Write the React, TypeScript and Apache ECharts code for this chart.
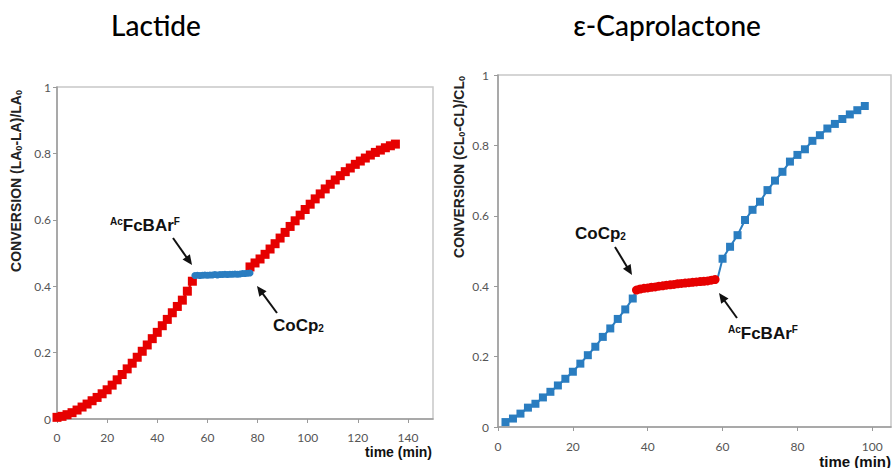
import React, { useEffect, useRef } from 'react';
import * as echarts from 'echarts';

// ---- Lactide panel data (time in min, conversion) ----
const laRed1Time = [0, 2, 4, 6, 8, 10, 12, 14, 16, 18, 20, 22, 24, 26, 28, 30, 32, 34, 36, 38, 40, 42, 44, 46, 48, 50, 52, 54];
const laRed1Conv = [0.005, 0.008, 0.013, 0.019, 0.027, 0.036, 0.045, 0.055, 0.065, 0.076, 0.088, 0.102, 0.118, 0.134, 0.151, 0.168, 0.186, 0.204, 0.223, 0.242, 0.261, 0.281, 0.300, 0.320, 0.339, 0.358, 0.385, 0.415];
const laBlueTime = [55, 56, 57, 58, 59, 60, 61, 62, 63, 64, 65, 66, 67, 68, 69, 70, 71, 72, 73, 74, 75, 76, 77];
const laBlueConv = [0.432, 0.433, 0.432, 0.433, 0.434, 0.433, 0.434, 0.434, 0.435, 0.434, 0.435, 0.435, 0.436, 0.435, 0.436, 0.436, 0.437, 0.436, 0.437, 0.438, 0.438, 0.439, 0.440];
const laRed2Time = [77, 79, 81, 83, 85, 87, 89, 91, 93, 95, 97, 99, 101, 103, 105, 107, 109, 111, 113, 115, 117, 119, 121, 123, 125, 127, 129, 131, 133, 135];
const laRed2Conv = [0.458, 0.470, 0.482, 0.496, 0.512, 0.528, 0.545, 0.562, 0.580, 0.597, 0.614, 0.631, 0.647, 0.663, 0.678, 0.693, 0.707, 0.720, 0.733, 0.745, 0.756, 0.767, 0.777, 0.786, 0.795, 0.803, 0.810, 0.817, 0.823, 0.828];

// ---- ε-Caprolactone panel data ----
const clBlue1Time = [2, 4, 6, 8, 10, 12, 14, 16, 18, 20, 22, 24, 26, 28, 30, 32, 34, 36, 37];
const clBlue1Conv = [0.014, 0.024, 0.038, 0.055, 0.066, 0.084, 0.100, 0.118, 0.137, 0.157, 0.180, 0.204, 0.228, 0.256, 0.280, 0.307, 0.334, 0.365, 0.389];
const clRedTime = [37, 38, 39, 40, 41, 42, 43, 44, 45, 46, 47, 48, 49, 50, 51, 52, 53, 54, 55, 56, 57, 58];
const clRedConv = [0.389, 0.392, 0.394, 0.395, 0.397, 0.398, 0.400, 0.401, 0.403, 0.404, 0.405, 0.407, 0.408, 0.409, 0.410, 0.411, 0.412, 0.413, 0.414, 0.415, 0.417, 0.419];
const clBlue2Time = [58.6, 60, 62, 64, 66, 68, 70, 72, 74, 76, 78, 80, 82, 84, 86, 88, 90, 92, 94, 96, 98];
const clBlue2Conv = [0.419, 0.478, 0.512, 0.545, 0.588, 0.617, 0.640, 0.673, 0.700, 0.725, 0.754, 0.773, 0.789, 0.813, 0.829, 0.848, 0.861, 0.875, 0.888, 0.900, 0.912];

const RED = '#e60000';
const BLUE = '#2a7dc0';
const TICK_FONT = 'Lato';
const ARIAL = '"Liberation Sans", Arial, sans-serif';

const pairs = (t: number[], v: number[]) => t.map((x, i) => [x, v[i]]);

function arrow(x1: number, y1: number, x2: number, y2: number) {
  const dx = x2 - x1, dy = y2 - y1;
  const len = Math.hypot(dx, dy);
  const ux = dx / len, uy = dy / len;
  const L = 10, W = 4.5;
  const bx = x2 - ux * L, by = y2 - uy * L;
  return [
    { type: 'line', shape: { x1, y1, x2: bx + ux * 2, y2: by + uy * 2 }, style: { stroke: '#111', lineWidth: 2 }, z: 100 },
    { type: 'polygon', shape: { points: [[x2, y2], [bx - uy * W, by + ux * W], [bx + uy * W, by - ux * W]] }, style: { fill: '#111' }, z: 100 },
  ];
}

function xAxis(gridIndex: number, max: number, margin: number) {
  return {
    type: 'value', gridIndex, min: 0, max, interval: 20,
    axisLine: { show: true, onZero: false, lineStyle: { color: '#9a9a9a', width: 1.5 } },
    axisTick: { show: true, inside: false, length: 4, lineStyle: { color: '#9a9a9a' } },
    axisLabel: { show: true, showMaxLabel: false, margin, color: '#555', fontFamily: TICK_FONT, fontSize: 12 },
    splitLine: { show: false },
  };
}
function yAxis(gridIndex: number, margin: number) {
  return {
    type: 'value', gridIndex, min: 0, max: 1, interval: 0.2,
    axisLine: { show: true, lineStyle: { color: '#9a9a9a', width: 1.5 } },
    axisTick: { show: true, inside: false, length: 4, lineStyle: { color: '#9a9a9a' } },
    axisLabel: { show: true, margin, color: '#555', fontFamily: TICK_FONT, fontSize: 12 },
    splitLine: { show: false },
  };
}

const squareSeries = (data: any[], color: string, xi: number, size: number, z: number) => ({
  type: 'line', xAxisIndex: xi, yAxisIndex: xi, data, symbol: 'rect', symbolSize: size,
  itemStyle: { color }, lineStyle: { color, width: 2 }, z,
});
const circleSeries = (data: any[], color: string, xi: number, size: number, z: number) => ({
  type: 'line', xAxisIndex: xi, yAxisIndex: xi, data, symbol: 'circle', symbolSize: size,
  itemStyle: { color }, lineStyle: { color, width: 2 }, z,
});

export default function App() {
  const ref = useRef<HTMLDivElement>(null);
  useEffect(() => {
    if (!ref.current) return;
    const chart = echarts.init(ref.current, undefined, { renderer: 'svg' });

    const blue1 = pairs(clBlue1Time, clBlue1Conv).map((p, i, a) =>
      i === a.length - 1 ? { value: p, symbol: 'none' } : p);
    const blue2 = pairs(clBlue2Time, clBlue2Conv).map((p, i) =>
      i === 0 ? { value: p, symbol: 'none' } : p);

    const yTitle = (text: string, x: number, y: number) => ({
      type: 'text', x, y, rotation: Math.PI / 2,
      style: {
        text, align: 'center', verticalAlign: 'middle', fill: '#222',
        font: `bold 14px ${ARIAL}`,
        rich: {
          b: { fontFamily: ARIAL, fontWeight: 'bold', fontSize: 14, fill: '#222' },
          s: { fontFamily: ARIAL, fontWeight: 'bold', fontSize: 9, fill: '#222', verticalAlign: 'bottom', padding: [4, 0, 0, 0] },
        },
      },
    });
    const annot = (text: string, x: number, y: number) => ({
      type: 'text', x, y, z: 100,
      style: {
        text, align: 'left', verticalAlign: 'middle', fill: '#111',
        rich: {
          m: { fontFamily: ARIAL, fontWeight: 'bold', fontSize: 17, fill: '#111' },
          p: { fontFamily: ARIAL, fontWeight: 'bold', fontSize: 10, fill: '#111', verticalAlign: 'top' },
          s: { fontFamily: ARIAL, fontWeight: 'bold', fontSize: 10, fill: '#111', verticalAlign: 'bottom', padding: [6, 0, 0, 0] },
        },
      },
    });

    chart.setOption({
      animation: false,
      backgroundColor: '#fff',
      grid: [
        { left: 57, top: 87, width: 376, height: 332, show: true, borderColor: '#c8c8c8', borderWidth: 1.5, backgroundColor: 'transparent' },
        { left: 498, top: 75, width: 393, height: 352, show: true, borderColor: '#c8c8c8', borderWidth: 1.5, backgroundColor: 'transparent' },
      ],
      xAxis: [xAxis(0, 150, 12), xAxis(1, 105, 13)],
      yAxis: [yAxis(0, 6), yAxis(1, 9)],
      series: [
        squareSeries(pairs(laRed1Time, laRed1Conv), RED, 0, 9, 2),
        squareSeries(pairs(laRed2Time, laRed2Conv), RED, 0, 9, 2),
        circleSeries(pairs(laBlueTime, laBlueConv), BLUE, 0, 7, 3),
        squareSeries(blue1, BLUE, 1, 8, 2),
        squareSeries(blue2, BLUE, 1, 8, 2),
        circleSeries(pairs(clRedTime, clRedConv), RED, 1, 9, 3),
      ],
      graphic: [
        { type: 'text', x: 156, y: 25, style: { text: 'Lactide', align: 'center', verticalAlign: 'middle', fill: '#000', font: '500 28px Lato' } },
        { type: 'text', x: 667, y: 25, style: { text: 'ε-Caprolactone', align: 'center', verticalAlign: 'middle', fill: '#000', font: '500 28px Lato' } },
        yTitle('{b|CONVERSION (LA}{s|0}{b|-LA)/LA}{s|0}', 16, 181),
        yTitle('{b|CONVERSION (CL}{s|0}{b|-CL)/CL}{s|0}', 459, 167),
        { type: 'text', x: 432, y: 452, style: { text: 'time (min)', align: 'right', verticalAlign: 'middle', fill: '#111', font: `bold 14px ${ARIAL}` } },
        { type: 'text', x: 891, y: 461, style: { text: 'time (min)', align: 'right', verticalAlign: 'middle', fill: '#111', font: `bold 15px ${ARIAL}` } },
        annot('{p|Ac}{m|FcBAr}{p|F}', 110, 225),
        annot('{m|CoCp}{s|2}', 273, 325),
        annot('{m|CoCp}{s|2}', 575, 233),
        annot('{p|Ac}{m|FcBAr}{p|F}', 728, 333),
        ...arrow(173, 238, 192, 265),
        ...arrow(277, 313, 257, 286),
        ...arrow(615, 247, 632, 275),
        ...arrow(737, 318, 719, 293),
      ],
    });
    return () => chart.dispose();
  }, []);
  return <div ref={ref} style={{ position: 'absolute', left: 0, top: 0, width: 892, height: 468 }} />;
}
